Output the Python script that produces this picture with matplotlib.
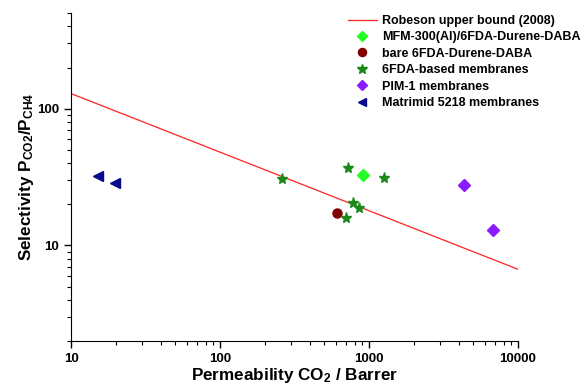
import numpy as np
import matplotlib
matplotlib.use("Agg")
import matplotlib.pyplot as plt
from matplotlib.ticker import LogLocator, FixedLocator, FixedFormatter, NullFormatter

plt.rcParams['font.family'] = ['Liberation Sans', 'DejaVu Sans']
plt.rcParams['font.weight'] = 'bold'
plt.rcParams['mathtext.fontset'] = 'custom'
plt.rcParams['mathtext.rm'] = 'Liberation Sans:bold'
plt.rcParams['mathtext.default'] = 'rm'

# Robeson upper bound (end points of the drawn line)
robeson_x = [10, 10000]
robeson_y = [129, 6.7]

# MFM-300(Al)/6FDA-Durene-DABA
mfm_x = [916]
mfm_y = [32.5]

# bare 6FDA-Durene-DABA
bare_x = [607]
bare_y = [17.3]

# 6FDA-based membranes
fda_x = [259, 726, 1256, 785, 853, 697]
fda_y = [30.7, 36.6, 31.3, 20.5, 18.8, 15.9]

# PIM-1 membranes
pim_x = [4365, 6825]
pim_y = [27.9, 13.0]

# Matrimid 5218 membranes
mat_x = [15.1, 19.7]
mat_y = [32.1, 28.7]

fig = plt.figure(figsize=(5.84, 3.85), dpi=100)
ax = fig.add_axes([0.1216, 0.114, 0.7654, 0.852])

ax.plot(robeson_x, robeson_y, color='#ff2020', lw=0.9, label='Robeson upper bound (2008)')
ax.plot(mfm_x, mfm_y, 'D', color='#22ff22', ms=6, ls='none', label='MFM-300(Al)/6FDA-Durene-DABA')
ax.plot(bare_x, bare_y, 'o', color='#800000', ms=6.5, ls='none', label='bare 6FDA-Durene-DABA')
ax.plot(fda_x, fda_y, '*', color='#1a8a1a', ms=8, ls='none', label='6FDA-based membranes')
ax.plot(pim_x, pim_y, 'D', color='#8a1aff', ms=6, ls='none', label='PIM-1 membranes')
ax.plot(mat_x, mat_y, '<', color='#0a0a8a', ms=7, ls='none', label='Matrimid 5218 membranes')

ax.set_xscale('log')
ax.set_yscale('log')
ax.set_xlim(10, 10000)
ax.set_ylim(2, 500)

ax.xaxis.set_major_locator(FixedLocator([10, 100, 1000, 10000]))
ax.xaxis.set_major_formatter(FixedFormatter(['10', '100', '1000', '10000']))
ax.xaxis.set_minor_locator(LogLocator(base=10, subs=np.arange(2, 10)))
ax.xaxis.set_minor_formatter(NullFormatter())
ax.yaxis.set_major_locator(FixedLocator([10, 100]))
ax.yaxis.set_major_formatter(FixedFormatter(['10', '100']))
ax.yaxis.set_minor_locator(LogLocator(base=10, subs=np.arange(2, 10)))
ax.yaxis.set_minor_formatter(NullFormatter())

for s in ['top', 'right']:
    ax.spines[s].set_visible(False)
ax.tick_params(which='major', direction='out', length=5, width=1, labelsize=9.5)
ax.tick_params(which='minor', direction='out', length=3, width=0.8)

ax.set_xlabel('Permeability CO$_2$ / Barrer', fontsize=12.3, fontweight='bold', labelpad=1)
ax.set_ylabel('Selectivity P$_{CO2}$/P$_{CH4}$', fontsize=12.3, fontweight='bold', labelpad=1)

leg = ax.legend(loc='upper left', bbox_to_anchor=(348 / 584, 1 - 15 / 385),
                bbox_transform=fig.transFigure, frameon=False, borderpad=0,
                fontsize=9, handlelength=2.3, handletextpad=0.4,
                labelspacing=0.35, borderaxespad=0, markerscale=0.9)
for t in leg.get_texts():
    t.set_fontweight('bold')

fig.savefig('out.png', dpi=100)
